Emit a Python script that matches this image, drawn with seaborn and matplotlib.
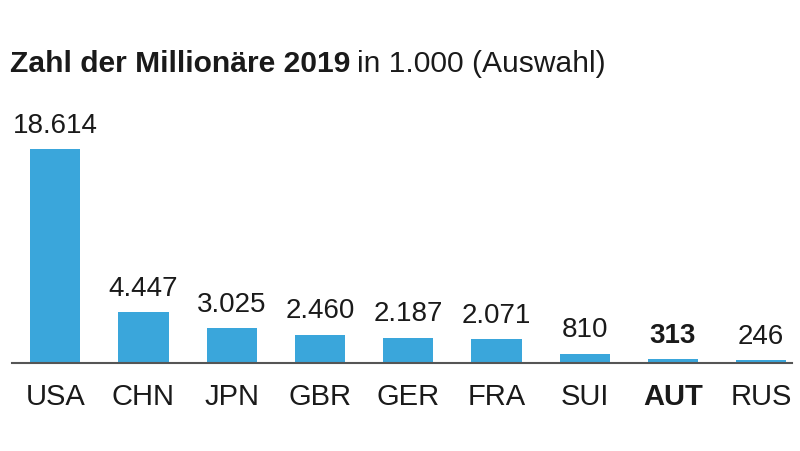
import matplotlib
matplotlib.use("Agg")
import matplotlib.pyplot as plt
import seaborn as sns
import pandas as pd

countries = ["USA", "CHN", "JPN", "GBR", "GER", "FRA", "SUI", "AUT", "RUS"]
values = [18614, 4447, 3025, 2460, 2187, 2071, 810, 313, 246]
value_labels = ["18.614", "4.447", "3.025", "2.460", "2.187", "2.071", "810", "313", "246"]
highlight = "AUT"

sns.set_theme(style="white")
plt.rcParams["font.family"] = ["Liberation Sans", "DejaVu Sans"]

df = pd.DataFrame({"country": countries, "value": values})

fig = plt.figure(figsize=(8, 4.52), dpi=100)
ax = fig.add_axes([0.015, 0.1947, 0.975, 0.5841])
sns.barplot(data=df, x="country", y="value", color="#3aa6db", saturation=1,
            width=0.57, ax=ax, edgecolor="none")

ax.set_xlim(-0.49, 8.35)
ax.set_ylim(0, 22963)
for s in ["top", "right", "left"]:
    ax.spines[s].set_visible(False)
ax.spines["bottom"].set_color("#555555")
ax.spines["bottom"].set_linewidth(1.5)
ax.set_yticks([])
ax.set_xlabel("")
ax.set_ylabel("")
ax.tick_params(axis="x", length=0, pad=13.5, labelsize=21, labelcolor="#1a1a1a")
for lbl in ax.get_xticklabels():
    if lbl.get_text() == highlight:
        lbl.set_fontweight("bold")

for i, (v, t) in enumerate(zip(values, value_labels)):
    ax.annotate(t, (i, v), xytext=(0, 12.5), textcoords="offset points",
                ha="center", va="baseline", fontsize=20, color="#1a1a1a",
                fontweight="bold" if countries[i] == highlight else "normal")

t1 = fig.text(0.0125, 1 - 72 / 452, "Zahl der Millionäre 2019", fontsize=21.6,
              fontweight="bold", color="#1a1a1a", va="baseline", ha="left")
fig.canvas.draw()
bb = t1.get_window_extent()
x2 = (bb.x1 + 7) / fig.bbox.width
fig.text(x2, 1 - 72 / 452, "in 1.000 (Auswahl)", fontsize=21.6,
         color="#1a1a1a", va="baseline", ha="left")

fig.savefig("out.png", dpi=100, facecolor="white")
